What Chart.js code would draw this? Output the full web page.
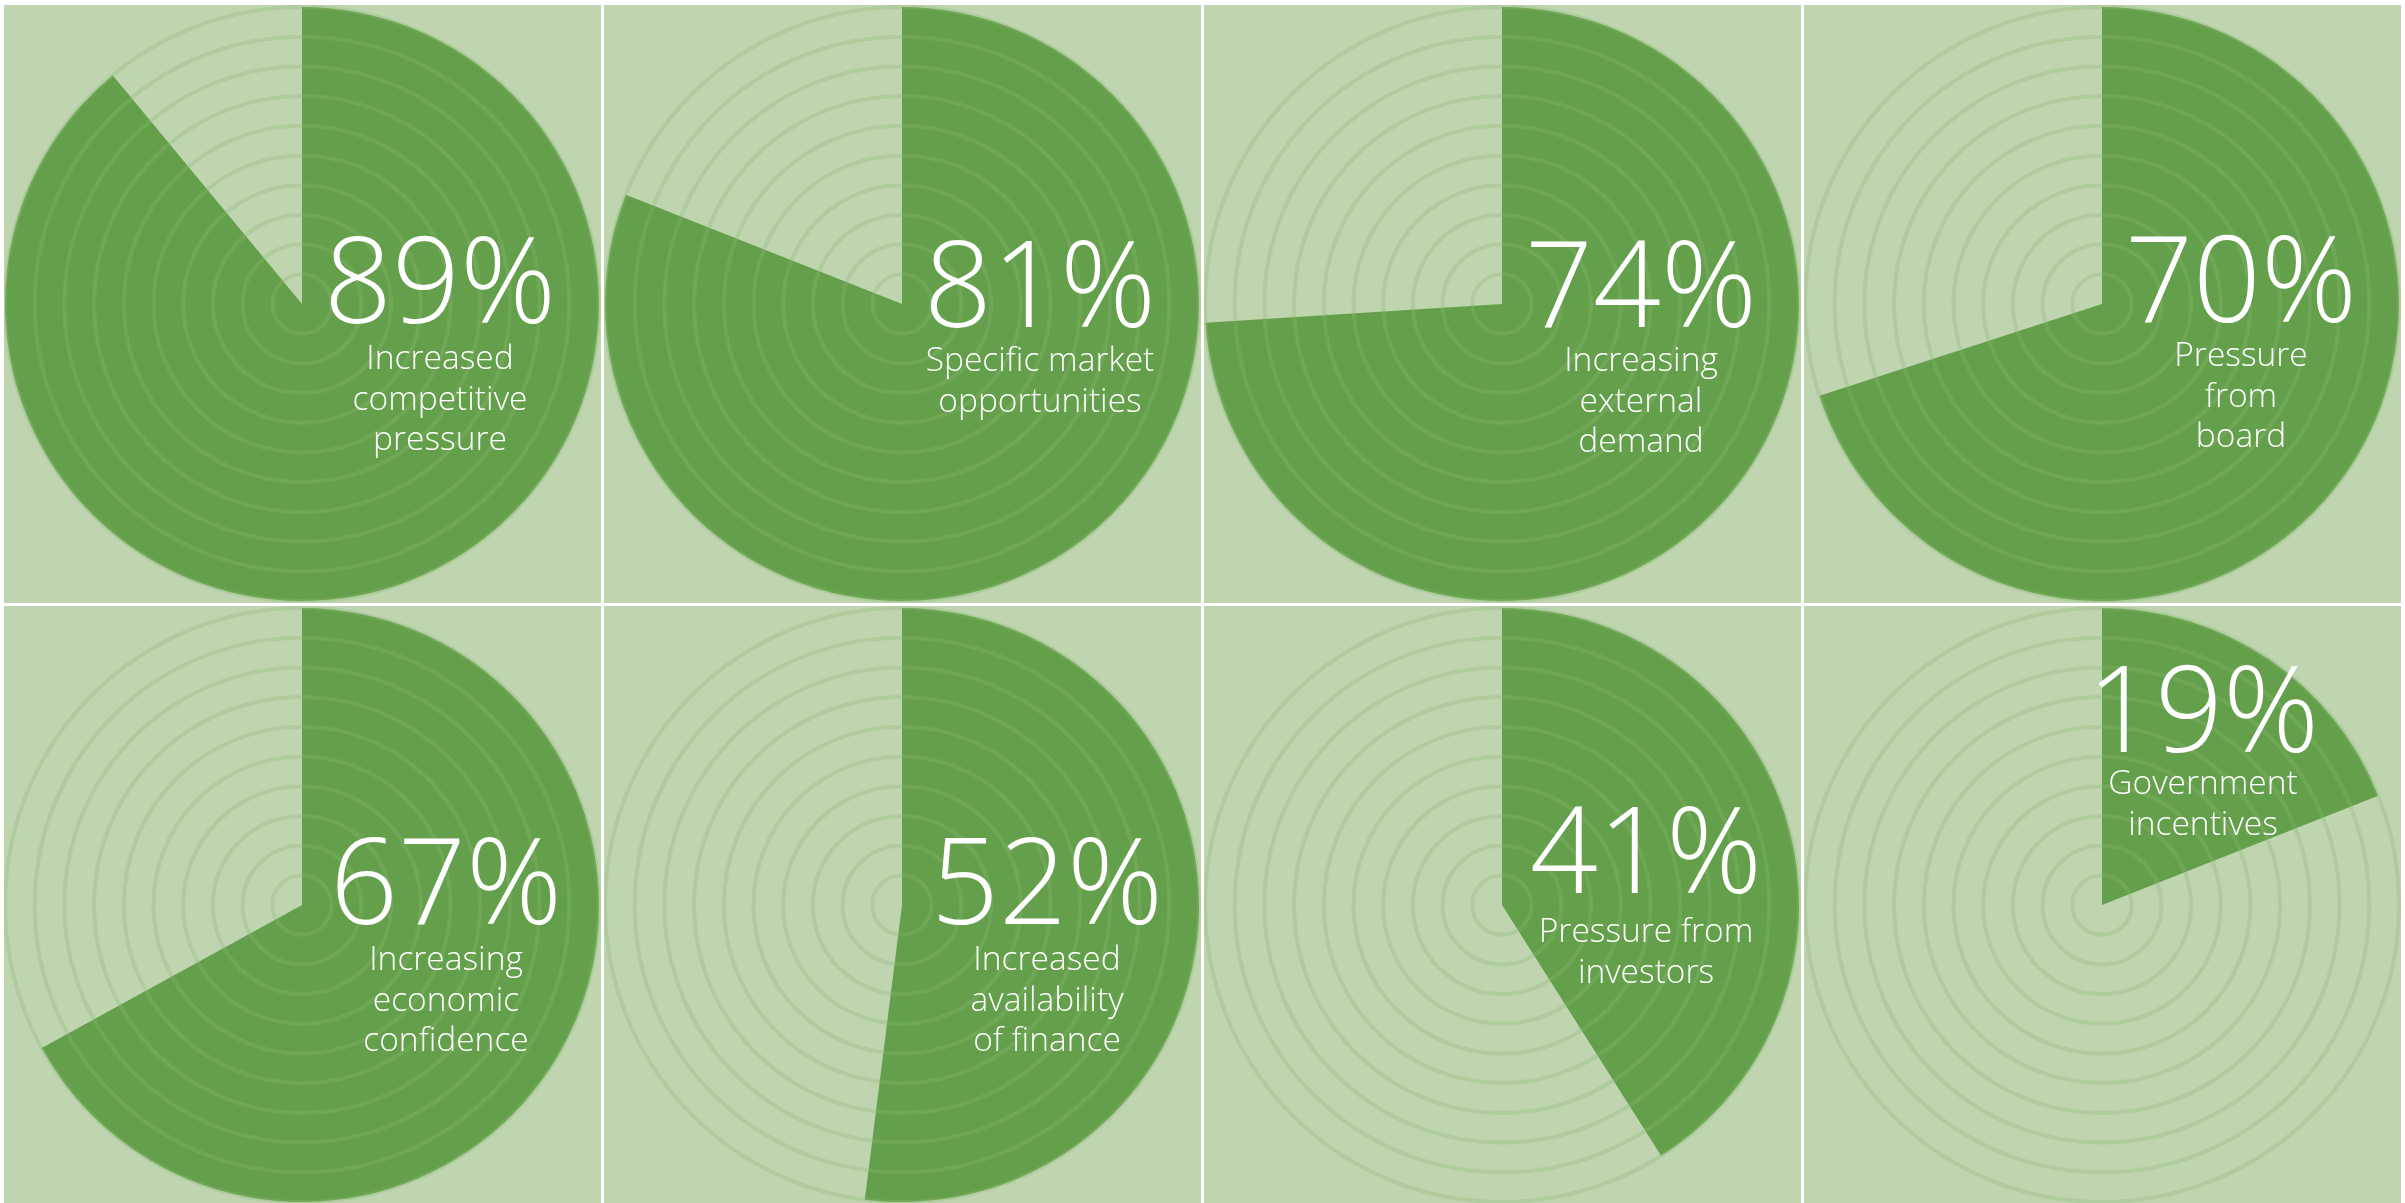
<!DOCTYPE html>
<html>
<head>
<meta charset="utf-8">
<title>Drivers</title>
<script src="https://cdn.jsdelivr.net/npm/chart.js@4.4.1/dist/chart.umd.min.js"></script>
<style>
    html, body { margin: 0; padding: 0; background: #ffffff; overflow: hidden; }
    #panels {
        position: absolute; left: 4px; top: 5px;
        display: grid;
        grid-template-columns: repeat(4, 597px);
        grid-template-rows: repeat(2, 598px);
        gap: 3px;
    }
    .panel { position: relative; background: #bfd5b0; overflow: hidden; }
    .panel canvas { display: block; }
</style>
</head>
<body>
<div id="panels"></div>
<script>
// Share of respondents citing each driver
const categories = [
    'Increased competitive pressure',
    'Specific market opportunities',
    'Increasing external demand',
    'Pressure from board',
    'Increasing economic confidence',
    'Increased availability of finance',
    'Pressure from investors',
    'Government incentives'
];
const percentages = [89, 81, 74, 70, 67, 52, 41, 19];
const labelLines = [
    ['Increased', 'competitive', 'pressure'],
    ['Specific market', 'opportunities'],
    ['Increasing', 'external', 'demand'],
    ['Pressure', 'from', 'board'],
    ['Increasing', 'economic', 'confidence'],
    ['Increased', 'availability', 'of finance'],
    ['Pressure from', 'investors'],
    ['Government', 'incentives']
];

// where the text sits, relative to the centre of each circle
const textOffsets = [
    { dx: 138, num: 19, lab: 65 },
    { dx: 138, num: 23, lab: 67 },
    { dx: 139, num: 23, lab: 67 },
    { dx: 139, num: 18, lab: 62 },
    { dx: 144, num: 19, lab: 65 },
    { dx: 145, num: 19, lab: 65 },
    { dx: 144, num: -12, lab: 37 },
    { dx: 101, num: -153, lab: -111 }
];

const sliceColor = '#64a04b';
const ringColor = 'rgba(140, 186, 115, 0.30)';
const fontFamily = '"Open Sans", "Noto Sans", sans-serif';

const centreText = {
    id: 'centreText',
    afterDraw(chart, args, opts) {
        const r = chart.scales.r;
        const ctx = chart.ctx;
        const off = textOffsets[opts.index];
        const x = r.xCenter + off.dx;
        ctx.save();
        ctx.fillStyle = '#ffffff';
        ctx.textAlign = 'center';
        ctx.textBaseline = 'alphabetic';
        ctx.font = '300 119px ' + fontFamily;
        ctx.fillText(percentages[opts.index] + '%', x, r.yCenter + off.num);
        ctx.font = '300 33.5px ' + fontFamily;
        labelLines[opts.index].forEach(function (line, i) {
            ctx.fillText(line, x, r.yCenter + off.lab + i * 40.5);
        });
        ctx.restore();
    }
};

function buildPanel(index) {
    const panel = document.createElement('div');
    panel.className = 'panel';
    const canvas = document.createElement('canvas');
    panel.appendChild(canvas);
    document.getElementById('panels').appendChild(panel);

    new Chart(canvas, {
        type: 'polarArea',
        data: {
            labels: [categories[index]],
            datasets: [{
                data: [100],
                // slice angle carries the percentage
                angle: percentages[index] * 3.6,
                backgroundColor: sliceColor,
                borderWidth: 0
            }]
        },
        options: {
            responsive: true,
            maintainAspectRatio: false,
            animation: false,
            layout: { padding: 1 },
            plugins: {
                legend: { display: false },
                tooltip: { enabled: false },
                centreText: { index: index }
            },
            scales: {
                r: {
                    min: 0,
                    max: 100,
                    startAngle: 0,
                    ticks: { display: false, stepSize: 10 },
                    pointLabels: { display: false },
                    angleLines: { display: false },
                    grid: { circular: true, color: ringColor, lineWidth: 4, z: 1 }
                }
            }
        },
        plugins: [centreText]
    });
}

window.addEventListener('DOMContentLoaded', event => {
    document.fonts.load('300 119px "Open Sans"').finally(function () {
        percentages.forEach(function (p, i) {
            buildPanel(i);
        });
    });
});
</script>
</body>
</html>
